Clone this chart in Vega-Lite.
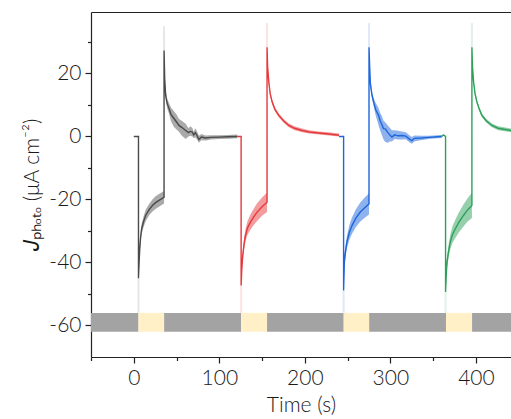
{
  "$schema": "https://vega.github.io/schema/vega-lite/v6.json",
  "autosize": "none",
  "width": 420,
  "height": 345,
  "padding": {"left": 91, "top": 12, "right": 0, "bottom": 62},
  "config": {
    "view": {"stroke": null},
    "font": "Lato",
    "axis": {"grid": false, "domainColor": "#222", "tickColor": "#222", "labelColor": "#1a1a1a", "titleColor": "#1a1a1a", "domainWidth": 1.2, "tickWidth": 1.2, "labelFont": "Lato", "titleFont": "Lato", "labelFontSize": 21, "titleFontSize": 21, "labelFontWeight": 300, "titleFontWeight": "normal"}
  },
  "datasets": {
    "bands": [
      {"start": -50, "end": 5.5, "state": "dark"},
      {"start": 5.5, "end": 35.5, "state": "light"},
      {"start": 35.5, "end": 125.5, "state": "dark"},
      {"start": 125.5, "end": 155.8, "state": "light"},
      {"start": 155.8, "end": 245.4, "state": "dark"},
      {"start": 245.4, "end": 275.2, "state": "light"},
      {"start": 275.2, "end": 365, "state": "dark"},
      {"start": 365, "end": 395.5, "state": "light"},
      {"start": 395.5, "end": 460, "state": "dark"}
    ],
    "tails": [
      {"s": "Cycle 1", "t": 5.5, "a": -45, "b": -56},
      {"s": "Cycle 1", "t": 35.4, "a": 27.3, "b": 35},
      {"s": "Cycle 2", "t": 125.5, "a": -47.3, "b": -56},
      {"s": "Cycle 2", "t": 155.8, "a": 28.3, "b": 36},
      {"s": "Cycle 3", "t": 245.3, "a": -48.9, "b": -56},
      {"s": "Cycle 3", "t": 275, "a": 28.3, "b": 36},
      {"s": "Cycle 4", "t": 364.5, "a": -49.4, "b": -56},
      {"s": "Cycle 4", "t": 395.3, "a": 28.3, "b": 36}
    ],
    "curves": [
      {"s": "Cycle 1", "g": "1a", "t": 0, "v": 0},
      {"s": "Cycle 1", "g": "1a", "t": 5.5, "v": 0},
      {"s": "Cycle 1", "g": "1b", "t": 5.5, "v": -45, "lo": -46, "hi": -44},
      {"s": "Cycle 1", "g": "1b", "t": 6.2, "v": -40, "lo": -41.5, "hi": -38.5},
      {"s": "Cycle 1", "g": "1b", "t": 7, "v": -35.6, "lo": -37, "hi": -34},
      {"s": "Cycle 1", "g": "1b", "t": 8, "v": -32, "lo": -33.5, "hi": -30.5},
      {"s": "Cycle 1", "g": "1b", "t": 9.3, "v": -29.2, "lo": -30.8, "hi": -27.6},
      {"s": "Cycle 1", "g": "1b", "t": 11.5, "v": -27, "lo": -28.7, "hi": -25.3},
      {"s": "Cycle 1", "g": "1b", "t": 14, "v": -25, "lo": -26.8, "hi": -23.2},
      {"s": "Cycle 1", "g": "1b", "t": 18, "v": -23.2, "lo": -25, "hi": -21.4},
      {"s": "Cycle 1", "g": "1b", "t": 21.8, "v": -21.9, "lo": -23.8, "hi": -20},
      {"s": "Cycle 1", "g": "1b", "t": 25.5, "v": -21, "lo": -23, "hi": -19},
      {"s": "Cycle 1", "g": "1b", "t": 29.5, "v": -20.3, "lo": -22.3, "hi": -18.3},
      {"s": "Cycle 1", "g": "1b", "t": 35.4, "v": -19.3, "lo": -21.3, "hi": -17.3},
      {"s": "Cycle 1", "g": "1c", "t": 35.4, "v": 27.3, "lo": 26, "hi": 29},
      {"s": "Cycle 1", "g": "1c", "t": 36.2, "v": 18, "lo": 16.8, "hi": 19.5},
      {"s": "Cycle 1", "g": "1c", "t": 37.3, "v": 13, "lo": 11.8, "hi": 14.5},
      {"s": "Cycle 1", "g": "1c", "t": 39, "v": 10.5, "lo": 9, "hi": 12},
      {"s": "Cycle 1", "g": "1c", "t": 41.2, "v": 8.9, "lo": 7.2, "hi": 10.6},
      {"s": "Cycle 1", "g": "1c", "t": 43.5, "v": 7, "lo": 4.8, "hi": 9.2},
      {"s": "Cycle 1", "g": "1c", "t": 47, "v": 5.7, "lo": 3, "hi": 8},
      {"s": "Cycle 1", "g": "1c", "t": 50, "v": 4.6, "lo": 2.2, "hi": 7},
      {"s": "Cycle 1", "g": "1c", "t": 52.9, "v": 3.5, "lo": 1.5, "hi": 5.5},
      {"s": "Cycle 1", "g": "1c", "t": 56, "v": 2.9, "lo": 0.3, "hi": 5},
      {"s": "Cycle 1", "g": "1c", "t": 60.7, "v": 1.9, "lo": -0.8, "hi": 4},
      {"s": "Cycle 1", "g": "1c", "t": 64, "v": 1.2, "lo": 0, "hi": 2.6},
      {"s": "Cycle 1", "g": "1c", "t": 66, "v": 1.6, "lo": 0.2, "hi": 3.2},
      {"s": "Cycle 1", "g": "1c", "t": 68.4, "v": 1.4, "lo": 0, "hi": 2.8},
      {"s": "Cycle 1", "g": "1c", "t": 70, "v": 0.5, "lo": -0.5, "hi": 1.5},
      {"s": "Cycle 1", "g": "1c", "t": 72, "v": 1.2, "lo": -0.3, "hi": 2.6},
      {"s": "Cycle 1", "g": "1c", "t": 74, "v": 0.3, "lo": -1, "hi": 1.6},
      {"s": "Cycle 1", "g": "1c", "t": 76.2, "v": -1, "lo": -2, "hi": 0.2},
      {"s": "Cycle 1", "g": "1c", "t": 79, "v": -0.2, "lo": -1.2, "hi": 0.8},
      {"s": "Cycle 1", "g": "1c", "t": 84, "v": -0.5, "lo": -1.3, "hi": 0.3},
      {"s": "Cycle 1", "g": "1c", "t": 90, "v": -0.3, "lo": -1, "hi": 0.4},
      {"s": "Cycle 1", "g": "1c", "t": 100, "v": -0.2, "lo": -0.8, "hi": 0.4},
      {"s": "Cycle 1", "g": "1c", "t": 110, "v": -0.1, "lo": -0.7, "hi": 0.5},
      {"s": "Cycle 1", "g": "1c", "t": 121, "v": 0, "lo": -0.6, "hi": 0.6},

      {"s": "Cycle 2", "g": "2a", "t": 121, "v": 0},
      {"s": "Cycle 2", "g": "2a", "t": 125.5, "v": 0},
      {"s": "Cycle 2", "g": "2b", "t": 125.5, "v": -47.3, "lo": -48, "hi": -46.5},
      {"s": "Cycle 2", "g": "2b", "t": 126.3, "v": -42, "lo": -43, "hi": -41},
      {"s": "Cycle 2", "g": "2b", "t": 127.4, "v": -37.8, "lo": -39.2, "hi": -36.4},
      {"s": "Cycle 2", "g": "2b", "t": 129, "v": -34, "lo": -35.8, "hi": -32.2},
      {"s": "Cycle 2", "g": "2b", "t": 130.6, "v": -31.4, "lo": -33.3, "hi": -29.5},
      {"s": "Cycle 2", "g": "2b", "t": 133, "v": -29, "lo": -31.2, "hi": -26.8},
      {"s": "Cycle 2", "g": "2b", "t": 136.4, "v": -27.2, "lo": -29.6, "hi": -24.8},
      {"s": "Cycle 2", "g": "2b", "t": 140, "v": -25.6, "lo": -28.2, "hi": -23},
      {"s": "Cycle 2", "g": "2b", "t": 144.2, "v": -24, "lo": -26.8, "hi": -21.2},
      {"s": "Cycle 2", "g": "2b", "t": 150, "v": -22.3, "lo": -25.2, "hi": -19.4},
      {"s": "Cycle 2", "g": "2b", "t": 155.8, "v": -20.9, "lo": -24, "hi": -17.8},
      {"s": "Cycle 2", "g": "2c", "t": 155.8, "v": 28.3, "lo": 27.5, "hi": 29.3},
      {"s": "Cycle 2", "g": "2c", "t": 156.5, "v": 22, "lo": 21.2, "hi": 23},
      {"s": "Cycle 2", "g": "2c", "t": 157.9, "v": 17.2, "lo": 16.4, "hi": 18},
      {"s": "Cycle 2", "g": "2c", "t": 159.5, "v": 13.5, "lo": 12.8, "hi": 14.3},
      {"s": "Cycle 2", "g": "2c", "t": 161.8, "v": 10.9, "lo": 10.2, "hi": 11.6},
      {"s": "Cycle 2", "g": "2c", "t": 165, "v": 8.6, "lo": 8, "hi": 9.3},
      {"s": "Cycle 2", "g": "2c", "t": 169.5, "v": 6.7, "lo": 6.1, "hi": 7.3},
      {"s": "Cycle 2", "g": "2c", "t": 175, "v": 5, "lo": 4.4, "hi": 5.6},
      {"s": "Cycle 2", "g": "2c", "t": 181.2, "v": 3.5, "lo": 2.9, "hi": 4.1},
      {"s": "Cycle 2", "g": "2c", "t": 188, "v": 2.6, "lo": 2, "hi": 3.2},
      {"s": "Cycle 2", "g": "2c", "t": 196.8, "v": 1.9, "lo": 1.3, "hi": 2.5},
      {"s": "Cycle 2", "g": "2c", "t": 205, "v": 1.4, "lo": 0.9, "hi": 2},
      {"s": "Cycle 2", "g": "2c", "t": 216.2, "v": 1.1, "lo": 0.6, "hi": 1.6},
      {"s": "Cycle 2", "g": "2c", "t": 228, "v": 0.8, "lo": 0.3, "hi": 1.3},
      {"s": "Cycle 2", "g": "2c", "t": 240, "v": 0.4, "lo": 0, "hi": 0.9},

      {"s": "Cycle 3", "g": "3a", "t": 240, "v": 0},
      {"s": "Cycle 3", "g": "3a", "t": 245.3, "v": 0},
      {"s": "Cycle 3", "g": "3b", "t": 245.3, "v": -48.9, "lo": -49.6, "hi": -48.2},
      {"s": "Cycle 3", "g": "3b", "t": 246.2, "v": -39.9, "lo": -41.3, "hi": -38.5},
      {"s": "Cycle 3", "g": "3b", "t": 247.5, "v": -36.5, "lo": -38.2, "hi": -34.8},
      {"s": "Cycle 3", "g": "3b", "t": 249.2, "v": -33.5, "lo": -35.5, "hi": -31.5},
      {"s": "Cycle 3", "g": "3b", "t": 252, "v": -30.5, "lo": -32.8, "hi": -28.2},
      {"s": "Cycle 3", "g": "3b", "t": 255.1, "v": -28.3, "lo": -30.9, "hi": -25.7},
      {"s": "Cycle 3", "g": "3b", "t": 259.5, "v": -26, "lo": -28.8, "hi": -23.2},
      {"s": "Cycle 3", "g": "3b", "t": 264.8, "v": -24, "lo": -27, "hi": -21},
      {"s": "Cycle 3", "g": "3b", "t": 270, "v": -22.6, "lo": -25.8, "hi": -19.4},
      {"s": "Cycle 3", "g": "3b", "t": 275, "v": -21.4, "lo": -24.8, "hi": -18},
      {"s": "Cycle 3", "g": "3c", "t": 275, "v": 28.3, "lo": 27.5, "hi": 29.2},
      {"s": "Cycle 3", "g": "3c", "t": 275.8, "v": 22, "lo": 21, "hi": 23},
      {"s": "Cycle 3", "g": "3c", "t": 276.5, "v": 17.2, "lo": 16.2, "hi": 18.2},
      {"s": "Cycle 3", "g": "3c", "t": 278.2, "v": 13.5, "lo": 12.5, "hi": 14.5},
      {"s": "Cycle 3", "g": "3c", "t": 280.4, "v": 10.9, "lo": 9.6, "hi": 12.2},
      {"s": "Cycle 3", "g": "3c", "t": 283, "v": 8.4, "lo": 6.5, "hi": 10.5},
      {"s": "Cycle 3", "g": "3c", "t": 286.2, "v": 6.7, "lo": 3.5, "hi": 9},
      {"s": "Cycle 3", "g": "3c", "t": 288, "v": 5, "lo": 2, "hi": 7.5},
      {"s": "Cycle 3", "g": "3c", "t": 290, "v": 3.8, "lo": 0.5, "hi": 6.5},
      {"s": "Cycle 3", "g": "3c", "t": 292, "v": 2.5, "lo": -1, "hi": 5},
      {"s": "Cycle 3", "g": "3c", "t": 294, "v": 2.4, "lo": -1.8, "hi": 4.5},
      {"s": "Cycle 3", "g": "3c", "t": 297, "v": 1.2, "lo": -2, "hi": 3.5},
      {"s": "Cycle 3", "g": "3c", "t": 300, "v": 0.3, "lo": -1.5, "hi": 2.5},
      {"s": "Cycle 3", "g": "3c", "t": 301.8, "v": -0.2, "lo": -1.6, "hi": 2},
      {"s": "Cycle 3", "g": "3c", "t": 305, "v": 0.5, "lo": -0.8, "hi": 2},
      {"s": "Cycle 3", "g": "3c", "t": 309, "v": 0.2, "lo": -1, "hi": 1.8},
      {"s": "Cycle 3", "g": "3c", "t": 313.5, "v": 0.3, "lo": -1, "hi": 1.6},
      {"s": "Cycle 3", "g": "3c", "t": 318, "v": 0.1, "lo": -0.9, "hi": 1.3},
      {"s": "Cycle 3", "g": "3c", "t": 323, "v": -1, "lo": -2, "hi": 0.2},
      {"s": "Cycle 3", "g": "3c", "t": 325.1, "v": -1.3, "lo": -2.3, "hi": -0.2},
      {"s": "Cycle 3", "g": "3c", "t": 328, "v": -0.6, "lo": -1.6, "hi": 0.3},
      {"s": "Cycle 3", "g": "3c", "t": 336.8, "v": -0.5, "lo": -1.1, "hi": 0.2},
      {"s": "Cycle 3", "g": "3c", "t": 345, "v": -0.3, "lo": -0.8, "hi": 0.2},
      {"s": "Cycle 3", "g": "3c", "t": 355, "v": -0.1, "lo": -0.6, "hi": 0.4},
      {"s": "Cycle 3", "g": "3c", "t": 360, "v": 0, "lo": -0.5, "hi": 0.5},

      {"s": "Cycle 4", "g": "4a", "t": 360, "v": 0},
      {"s": "Cycle 4", "g": "4a", "t": 362, "v": 0.5},
      {"s": "Cycle 4", "g": "4a", "t": 364.5, "v": 0},
      {"s": "Cycle 4", "g": "4b", "t": 364.5, "v": -49.4, "lo": -50, "hi": -48.8},
      {"s": "Cycle 4", "g": "4b", "t": 365.3, "v": -44, "lo": -45.2, "hi": -42.8},
      {"s": "Cycle 4", "g": "4b", "t": 366.2, "v": -39.9, "lo": -41.6, "hi": -38.2},
      {"s": "Cycle 4", "g": "4b", "t": 368, "v": -36.5, "lo": -38.5, "hi": -34.5},
      {"s": "Cycle 4", "g": "4b", "t": 370, "v": -33.5, "lo": -35.8, "hi": -31.2},
      {"s": "Cycle 4", "g": "4b", "t": 372.5, "v": -31.2, "lo": -33.8, "hi": -28.6},
      {"s": "Cycle 4", "g": "4b", "t": 375.9, "v": -29.3, "lo": -32.2, "hi": -26.4},
      {"s": "Cycle 4", "g": "4b", "t": 380, "v": -27.3, "lo": -30.5, "hi": -24.1},
      {"s": "Cycle 4", "g": "4b", "t": 385.6, "v": -25, "lo": -28.5, "hi": -21.5},
      {"s": "Cycle 4", "g": "4b", "t": 390, "v": -23.4, "lo": -27.1, "hi": -19.7},
      {"s": "Cycle 4", "g": "4b", "t": 395.3, "v": -21.9, "lo": -25.9, "hi": -17.9},
      {"s": "Cycle 4", "g": "4c", "t": 395.3, "v": 28.3, "lo": 27.5, "hi": 29.2},
      {"s": "Cycle 4", "g": "4c", "t": 396, "v": 22, "lo": 21.2, "hi": 23},
      {"s": "Cycle 4", "g": "4c", "t": 397.3, "v": 17.2, "lo": 16.4, "hi": 18},
      {"s": "Cycle 4", "g": "4c", "t": 399, "v": 13.5, "lo": 12.8, "hi": 14.3},
      {"s": "Cycle 4", "g": "4c", "t": 401.2, "v": 10.9, "lo": 10.2, "hi": 11.6},
      {"s": "Cycle 4", "g": "4c", "t": 404, "v": 8.6, "lo": 8, "hi": 9.3},
      {"s": "Cycle 4", "g": "4c", "t": 407, "v": 6.7, "lo": 6.1, "hi": 7.3},
      {"s": "Cycle 4", "g": "4c", "t": 412, "v": 5, "lo": 4.4, "hi": 5.6},
      {"s": "Cycle 4", "g": "4c", "t": 418.7, "v": 3.5, "lo": 2.9, "hi": 4.1},
      {"s": "Cycle 4", "g": "4c", "t": 426, "v": 2.6, "lo": 2, "hi": 3.2},
      {"s": "Cycle 4", "g": "4c", "t": 441, "v": 1.9, "lo": 1.3, "hi": 2.5},
      {"s": "Cycle 4", "g": "4c", "t": 450, "v": 1.6, "lo": 1, "hi": 2.2}
    ]
  },
  "layer": [
    {
      "data": {"name": "bands"},
      "mark": {"type": "rect", "clip": true},
      "encoding": {
        "x": {"field": "start", "type": "quantitative", "scale": {"domain": [-50, 441], "nice": false, "zero": false},
              "axis": {"orient": "bottom", "values": [0, 100, 200, 300, 400], "tickSize": 6, "labelPadding": 4, "title": "Time (s)", "titlePadding": 6, "titleFontWeight": 300}},
        "x2": {"field": "end"},
        "y": {"datum": -62, "type": "quantitative", "scale": {"domain": [-70, 39.5], "nice": false, "zero": false},
              "axis": {"orient": "left", "values": [-60, -40, -20, 0, 20], "tickSize": 6, "labelPadding": 4, "labelExpr": "toString(datum.value)", "title": "𝐽ₚₕₒₜₒ (μA cm⁻²)", "titleFont": "Lato, DejaVu Sans", "titleFontWeight": 300, "titlePadding": 6}},
        "y2": {"datum": -56},
        "color": {"field": "state", "type": "nominal", "scale": {"domain": ["dark", "light"], "range": ["#a3a3a3", "#fff0c8"]}, "legend": null}
      }
    },
    {
      "data": {"name": "tails"},
      "mark": {"type": "rule", "strokeWidth": 2, "opacity": 0.14, "clip": true},
      "encoding": {
        "x": {"field": "t", "type": "quantitative", "axis": {"orient": "bottom", "values": [-50, 50, 150, 250, 350], "tickSize": 3.5, "labels": false, "domain": false, "title": null}},
        "y": {"field": "a", "type": "quantitative", "axis": {"orient": "left", "values": [-50, -30, -10, 10, 30], "tickSize": 3.5, "labels": false, "domain": false, "title": null}},
        "y2": {"field": "b"},
        "color": {"field": "s", "type": "nominal", "scale": {"domain": ["Cycle 1", "Cycle 2", "Cycle 3", "Cycle 4"], "range": ["#555555", "#e5393c", "#1e66dc", "#2ea05a"]}, "legend": null}
      }
    },
    {
      "data": {"name": "curves"},
      "transform": [{"filter": "isValid(datum.lo)"}],
      "mark": {"type": "area", "opacity": 0.5, "clip": true},
      "encoding": {
        "x": {"field": "t", "type": "quantitative", "axis": {"orient": "top", "ticks": false, "labels": false, "domain": true, "title": null}},
        "y": {"field": "lo", "type": "quantitative", "axis": null},
        "y2": {"field": "hi"},
        "detail": {"field": "g"},
        "color": {"field": "s", "type": "nominal", "scale": {"domain": ["Cycle 1", "Cycle 2", "Cycle 3", "Cycle 4"], "range": ["#555555", "#e5393c", "#1e66dc", "#2ea05a"]}, "legend": null}
      }
    },
    {
      "data": {"name": "curves"},
      "mark": {"type": "line", "strokeWidth": 1.4, "clip": true},
      "encoding": {
        "x": {"field": "t", "type": "quantitative", "axis": null},
        "y": {"field": "v", "type": "quantitative", "axis": null},
        "order": {"value": null},
        "color": {"field": "s", "type": "nominal", "scale": {"domain": ["Cycle 1", "Cycle 2", "Cycle 3", "Cycle 4"], "range": ["#4a4a4a", "#e5393c", "#1e66dc", "#2ea05a"]}, "legend": null}
      }
    }
  ],
  "resolve": {"axis": {"x": "independent", "y": "independent"}, "scale": {"color": "independent"}}
}
